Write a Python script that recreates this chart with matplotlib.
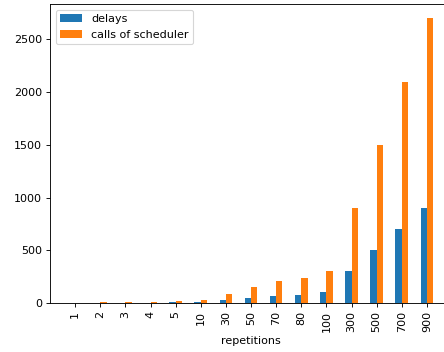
import matplotlib
matplotlib.use('Agg')
import matplotlib.pyplot as plt
import pandas as pd

repetitions = [1, 2, 3, 4, 5, 10, 30, 50, 70, 80, 100, 300, 500, 700, 900]
delays = [1, 2, 3, 4, 5, 10, 30, 50, 70, 80, 100, 300, 500, 700, 900]
scheduler_calls = [3, 6, 9, 12, 15, 30, 90, 150, 210, 240, 300, 900, 1500, 2100, 2700]

table = pd.DataFrame({'delays': delays, 'calls of scheduler': scheduler_calls},
                     index=pd.Index(repetitions, name='repetitions'))

# 80 dpi keeps text, ticks and lines at the smaller size
fig = plt.figure(figsize=(444/80, 352/80), dpi=80)
ax = fig.add_axes([50/444, 49/352, 402/444, 299/352])
table.plot(kind='bar', ax=ax)
ax.set_xlim(-1, 15)
ax.legend(loc='upper left')

fig.savefig('out.png', dpi=80)
